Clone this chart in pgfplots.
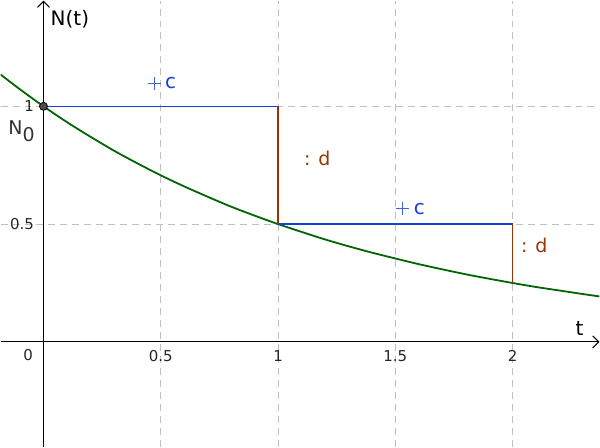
\documentclass[border=0pt]{standalone}
\usepackage{fontspec}
\setmainfont{DejaVu Sans}
\usepackage{pgfplots}
\pgfplotsset{compat=1.18}
\usetikzlibrary{arrows.meta}
\definecolor{ggblue}{RGB}{21,64,216}
\definecolor{ggplus}{RGB}{60,100,220}
\definecolor{ggbrown}{RGB}{153,51,0}
\definecolor{gggreen}{RGB}{0,100,0}
\definecolor{gggrid}{RGB}{192,192,192}
\begin{document}
\begin{tikzpicture}
\begin{axis}[
  width=600pt, height=447pt, scale only axis,
  xmin=-0.183, xmax=2.37, ymin=-0.445, ymax=1.449,
  axis lines=middle,
  axis line style={line width=1.1pt, -{Straight Barb[length=6pt,width=12pt,line width=1.1pt]}},
  xtick={0.5,1,1.5,2}, ytick={0.5,1},
  xticklabels={0.5,1,1.5,2}, yticklabels={0.5,1},
  /pgf/number format/assume math mode=true,
  tick style={draw=none},
  ticklabel style={font=\fontsize{15}{18}\selectfont, text=black!85},
  xticklabel style={anchor=north, yshift=-3pt},
  yticklabel style={anchor=east, xshift=-4pt},
  grid=major,
  grid style={gggrid, dashed, dash pattern=on 7pt off 5pt, line width=0.9pt},
  clip mode=individual,
]
\addplot[gggreen, line width=1.8pt, smooth] coordinates {
(-0.183,1.135) (-0.1,1.072) (0,1) (0.1,0.933) (0.2,0.871) (0.3,0.812) (0.4,0.758)
(0.5,0.707) (0.6,0.660) (0.7,0.616) (0.8,0.574) (0.9,0.536) (1.0,0.5)
(1.1,0.467) (1.2,0.435) (1.3,0.406) (1.4,0.379) (1.5,0.354) (1.6,0.330)
(1.7,0.308) (1.8,0.287) (1.9,0.268) (2.0,0.25) (2.1,0.233) (2.2,0.218)
(2.3,0.203) (2.37,0.193)};
\addplot[ggblue, line width=1.4pt] coordinates {(0,1) (1,1)};
\addplot[ggblue, line width=1.4pt] coordinates {(1,0.5) (2,0.5)};
\addplot[ggbrown, line width=1.3pt] coordinates {(1,1) (1,0.5)};
\addplot[ggbrown, line width=1.3pt] coordinates {(2,0.5) (2,0.25)};
\addplot[only marks, mark=+, mark size=6.5pt, mark options={ggplus, line width=1pt}] coordinates {(0.472,1.097) (1.532,0.565)};
\addplot[only marks, mark=*, mark size=4pt, mark options={fill=black!70, draw=black, line width=0.8pt}] coordinates {(0,1)};
\node[anchor=east, font=\fontsize{15}{18}\selectfont, text=black!85] at (axis cs:-0.03,-0.055) {0};
\node[anchor=south west, font=\fontsize{20}{24}\selectfont, inner sep=0pt] at (axis cs:0.03,1.33) {N(t)};
\node[anchor=south, font=\fontsize{20}{24}\selectfont, inner sep=0pt] at (axis cs:2.285,0.025) {t};
\node[anchor=west, font=\fontsize{19}{24}\selectfont, text=black!80, inner sep=0pt] at (axis cs:-0.15,0.895) {N\raisebox{-7pt}{0}};
\node[ggblue, anchor=west, font=\fontsize{20}{24}\selectfont, inner sep=0pt] at (axis cs:0.518,1.097) {c};
\node[ggblue, anchor=west, font=\fontsize{20}{24}\selectfont, inner sep=0pt] at (axis cs:1.578,0.565) {c};
\node[ggbrown, anchor=west, font=\fontsize{19}{22}\selectfont, inner sep=0pt] at (axis cs:1.11,0.78) {: d};
\node[ggbrown, anchor=west, font=\fontsize{19}{22}\selectfont, inner sep=0pt] at (axis cs:2.035,0.41) {: d};
\end{axis}
\end{tikzpicture}
\end{document}
